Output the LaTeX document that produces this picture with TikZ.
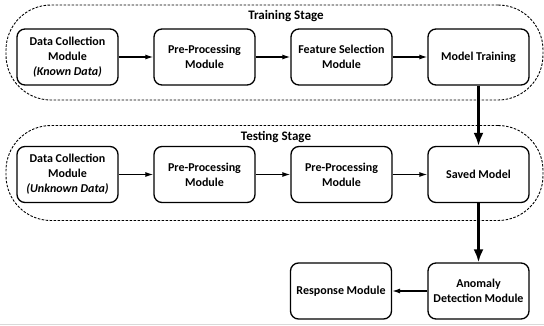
\documentclass[tikz,border=0pt]{standalone}
\usepackage{fontspec}
\setmainfont{Carlito}
\usetikzlibrary{arrows.meta}
\begin{document}
\begin{tikzpicture}[x=1pt,y=-1pt,
 box/.style={draw, line width=1.3pt, rounded corners=8pt, minimum width=101pt, minimum height=56pt, align=center, font=\fontsize{12}{15}\selectfont\bfseries, inner sep=1pt},
 stage/.style={draw, dash pattern=on 2.5pt off 1.5pt, line width=0.9pt, rounded corners=45pt, minimum width=537pt, minimum height=95pt, inner sep=0pt},
 title/.style={font=\fontsize{13}{15}\selectfont\bfseries, inner sep=0pt},
 arr/.style={-{Latex[length=8pt,width=5pt]}, line width=1.2pt},
 thickarr/.style={-{Latex[length=13pt,width=10pt]}, line width=3.3pt}]
\useasboundingbox (0,0) rectangle (544,325);
\node[stage] (train) at (274.5,52.5) {};
\node[stage] (test) at (274.5,173) {};
\node[title] (ttrain) at (286,16) {Training Stage};
\node[title] (ttest) at (276,137) {Testing Stage};
% row 1
\node[box] (dc1) at (67.5,57) {Data Collection\\Module\\\itshape(Known Data)};
\node[box] (pp1) at (204.5,57) {Pre-Processing\\Module};
\node[box] (fs) at (341.5,57) {Feature Selection\\Module};
\node[box] (mt) at (478.5,57) {Model Training};
% row 2
\node[box] (dc2) at (67.5,174.5) {Data Collection\\Module\\\itshape(Unknown Data)};
\node[box] (pp2) at (204.5,174.5) {Pre-Processing\\Module};
\node[box] (pp3) at (341.5,174.5) {Pre-Processing\\Module};
\node[box] (sm) at (478.5,174.5) {Saved Model};
% row 3
\node[box] (rm) at (341,291) {Response Module};
\node[box] (ad) at (478.5,291) {Anomaly\\Detection Module};
% arrows
\draw[arr] (dc1) -- (pp1);
\draw[arr] (pp1) -- (fs);
\draw[arr] (fs) -- (mt);
\draw[arr] (dc2) -- (pp2);
\draw[arr] (pp2) -- (pp3);
\draw[arr] (pp3) -- (sm);
\draw[arr] (ad) -- (rm);
\draw[thickarr] (mt) -- (sm);
\draw[thickarr] (sm) -- (ad);
\coordinate (bl) at (0,324.5);
\coordinate (br) at (544,324.5);
\draw[gray!30, line width=0.8pt] (bl) -- (br);
\end{tikzpicture}
\end{document}
